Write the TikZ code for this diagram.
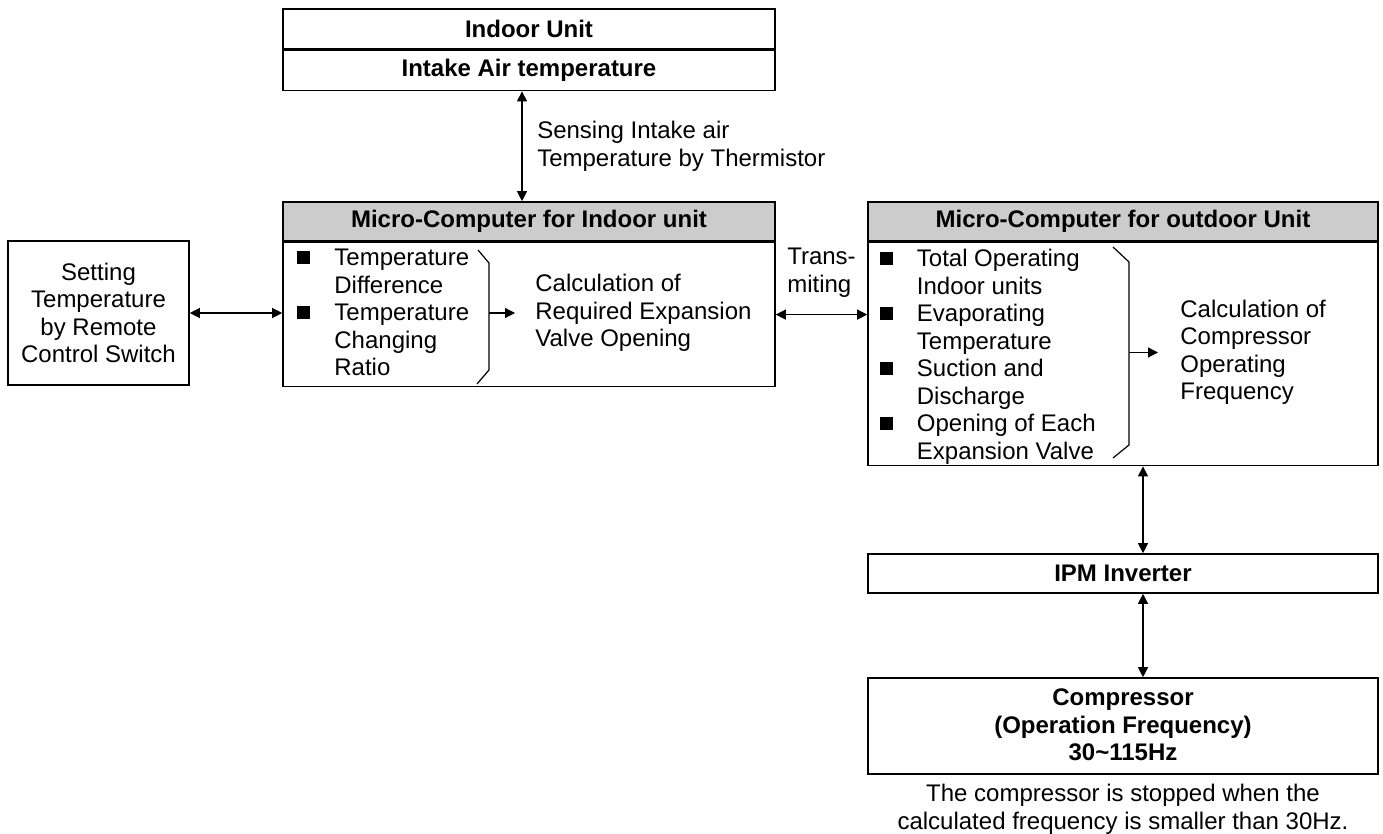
\documentclass[tikz,border=0pt]{standalone}
\usepackage{fontspec}
\setmainfont{Liberation Sans}
\usetikzlibrary{arrows.meta,positioning}
\definecolor{headgray}{HTML}{CCCCCC}
\newcommand{\sqbul}{\makebox[18.5pt][l]{\rule[1pt]{6.5pt}{6.5pt}}}
\newcommand{\ind}{\hspace*{18.5pt}}

\begin{document}
\begin{tikzpicture}[x=0.5pt,y=-0.5pt,
  every node/.style={font=\fontsize{12}{13.75}\selectfont},
  box/.style={rectangle,draw,line width=0.8pt,inner sep=0pt,align=center},
  unit/.style={box,minimum width=246pt,minimum height=20pt,font=\fontsize{12}{13.75}\selectfont\bfseries},
  head/.style={box,fill=headgray,minimum height=19.5pt,font=\fontsize{12}{13.75}\selectfont\bfseries},
  list/.style={inner sep=0pt,align=left},
  brace/.style={line width=0.6pt},
  arr/.style={-{Triangle[length=5pt,width=5pt]},line width=0.6pt},
  dbl/.style={{Triangle[length=5pt,width=5pt]}-{Triangle[length=5pt,width=5pt]},line width=0.6pt}
]
\useasboundingbox (0,0) rectangle (1383,834);
\node[unit] (iu) at (529,29) {Indoor Unit};
\node[unit,below=0pt of iu] (intake) {Intake Air temperature};
\node[head,minimum width=246pt] (mcih) at (529,221.5) {Micro-Computer for Indoor unit};
\node[box,minimum width=246pt,minimum height=72pt,below=0pt of mcih] (mcib) {};
\node[box,minimum width=90.5pt,minimum height=72pt] (setting) at (98.5,313) {Setting\\Temperature\\by Remote\\Control Switch};
\node[head,minimum width=255pt] (mcoh) at (1123,221.5) {Micro-Computer for outdoor Unit};
\node[box,minimum width=255pt,minimum height=111.5pt,below=0pt of mcoh] (mcob) {};
\node[unit,minimum width=255pt,minimum height=19.5pt] (ipm) at (1123,573.5) {IPM Inverter};
\node[unit,minimum width=255pt,minimum height=48pt,text depth=1pt] (comp) at (1123,726) {Compressor\\(Operation Frequency)\\30\textasciitilde115Hz};
\node[below=4.5pt of comp,align=center,inner sep=0pt] (note) {The compressor is stopped when the\\calculated frequency is smaller than 30Hz.};

\node[list,anchor=north west] (mcilist) at (297,249) {\sqbul Temperature\\\ind Difference\\\sqbul Temperature\\\ind Changing\\\ind Ratio};
\draw[brace] (478,250) -- (489,263) -- (489,370) -- (477,384);
\coordinate (bri) at (489,313);
\node[list,anchor=west] (calci) at (535,313) {Calculation of\\Required Expansion\\Valve Opening};
\draw[arr] (bri) -- ([xshift=-10pt]calci.west);

\node[list,anchor=north west] (mcolist) at (879.5,249) {\sqbul Total Operating\\\ind Indoor units\\\sqbul Evaporating\\\ind Temperature\\\sqbul Suction and\\\ind Discharge\\\sqbul Opening of Each\\\ind Expansion Valve};
\draw[brace] (1113,247) -- (1129,262) -- (1129,445) -- (1113,458);
\coordinate (bro) at (1129,352.5);
\node[list,anchor=west] (calco) at (1180,352.5) {Calculation of\\Compressor\\Operating\\Frequency};
\draw[arr] (bro) -- ([xshift=-11pt]calco.west);

\draw[dbl] ([xshift=-3.5pt]intake.south) -- ([xshift=-3.5pt]mcih.north) node[midway,right=4pt,align=left] {Sensing Intake air\\Temperature by Thermistor};
\draw[dbl] (setting.east) -- (setting.east -| mcib.west);
\draw[dbl] (mcib.east) -- (mcob.west |- mcib.east) node[midway,above=5pt,align=left] {Trans-\\miting};
\draw[dbl] ([xshift=10pt]mcob.south) -- ([xshift=10pt]ipm.north);
\draw[dbl] ([xshift=10pt]ipm.south) -- ([xshift=10pt]comp.north);
\end{tikzpicture}
\end{document}
